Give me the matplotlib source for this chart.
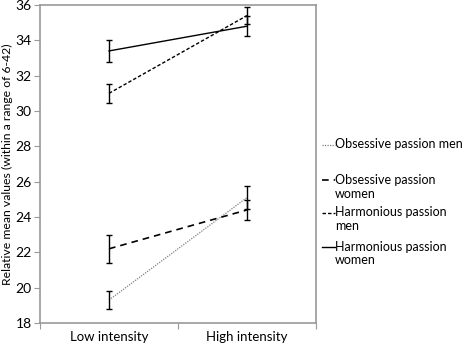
import matplotlib; matplotlib.use("Agg")
import matplotlib.pyplot as plt
from matplotlib.lines import Line2D

plt.rcParams["font.family"] = ["Lato", "DejaVu Sans"]

categories = ["Low intensity", "High intensity"]
series = ["Obsessive passion men", "Obsessive passion\nwomen",
          "Harmonious passion\nmen", "Harmonious passion\nwomen"]
means = [[19.3, 25.1], [22.2, 24.4], [31.0, 35.4], [33.4, 34.8]]
errors = [[0.5, 0.65], [0.8, 0.55], [0.55, 0.5], [0.6, 0.55]]
yticks = [18, 20, 22, 24, 26, 28, 30, 32, 34, 36]

styles = [
    dict(color="#808080", lw=0.9, ls=(0, (1, 1))),
    dict(color="black", lw=1.2, ls=(0, (4, 3))),
    dict(color="black", lw=1.0, ls=(0, (2.5, 1.5))),
    dict(color="black", lw=1.0, ls="-"),
]

fig = plt.figure(figsize=(4.72, 3.45), dpi=100)
ax = fig.add_axes([40 / 472, 1 - 323 / 345, 276 / 472, 318 / 345])

x = [0.5, 1.5]
for m, e, st in zip(means, errors, styles):
    ax.plot(x, m, **st)
    ax.errorbar(x, m, yerr=e, fmt="none", ecolor="black", elinewidth=1.0,
                capsize=2.2, capthick=1.0)

ax.set_xlim(0, 2)
ax.set_ylim(18, 36)
ax.set_yticks(yticks)
ax.set_xticks([0, 1, 2])
ax.set_xticklabels([])
ax.set_xticks(x, minor=True)
ax.set_xticklabels(categories, minor=True)
ax.tick_params(axis="x", which="minor", length=0, labelsize=9.5, pad=6)
ax.tick_params(axis="x", which="major", length=4, color="#999999")
ax.tick_params(axis="y", length=4, color="#999999", labelsize=10, pad=2)
for sp in ax.spines.values():
    sp.set_color("#999999")
    sp.set_linewidth(1.2)
ax.set_ylabel("Relative mean values (within a range of 6-42)", fontsize=8.8, labelpad=2)

# legend drawn beside the plot
ys = [145, 180, 213, 247]
for lab, st, yy in zip(series, styles, ys):
    fy = 1 - yy / 345
    fig.add_artist(Line2D([322 / 472, 335 / 472], [fy, fy], transform=fig.transFigure, **st))
    fig.text(335 / 472, fy + 6.5 / 345, lab, fontsize=9, va="top", ha="left",
             transform=fig.transFigure, linespacing=1.2)

plt.savefig("out.png", dpi=100)
